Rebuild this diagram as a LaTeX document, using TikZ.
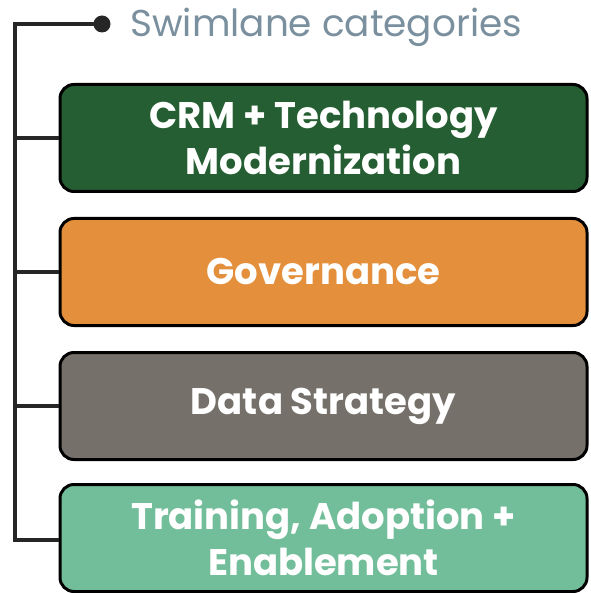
\documentclass[tikz,border=0pt]{standalone}
\usepackage{fontspec}
\setmainfont{Poppins}
\definecolor{crm}{HTML}{255E32}
\definecolor{gov}{HTML}{E38F3B}
\definecolor{dat}{HTML}{75716A}
\definecolor{trn}{HTML}{73BE9A}
\definecolor{ttl}{HTML}{7A909E}
\definecolor{lin}{HTML}{262626}
\begin{document}
\begin{tikzpicture}[x=1pt,y=-1pt,
  lane/.style={draw=black,line width=3pt,rounded corners=14pt,minimum width=527pt,minimum height=107pt,
    text=white,font=\fontsize{37}{46}\selectfont\bfseries,align=center,inner sep=0pt},
  conn/.style={draw=lin,line width=3.2pt}]
\useasboundingbox (0,0) rectangle (590,593);
\node[lane,fill=crm] (b1) at (323.5,138) {CRM + Technology\\Modernization};
\node[lane,fill=gov] (b2) at (323.5,272) {Governance};
\node[lane,fill=dat] (b3) at (323.5,406) {Data Strategy};
\node[lane,fill=trn] (b4) at (323.5,538) {Training, Adoption +\\Enablement};
\coordinate (dot) at (102,24);
\node[anchor=base west,text=ttl,font=\fontsize{37.4}{42}\selectfont,inner sep=0pt] (t) at (130,37) {Swimlane categories};
\coordinate (top) at (15,24);
\coordinate (bot) at (15,540);
\draw[conn,line join=miter] (dot) -- (top) -- (bot) -- (b4.west |- bot);
\draw[conn] (top |- b1.west) -- (b1.west);
\draw[conn] (top |- b2.west) -- (b2.west);
\draw[conn] (top |- b3.west) -- (b3.west);
\fill[lin] (dot) circle (8.5pt);
\end{tikzpicture}
\end{document}
